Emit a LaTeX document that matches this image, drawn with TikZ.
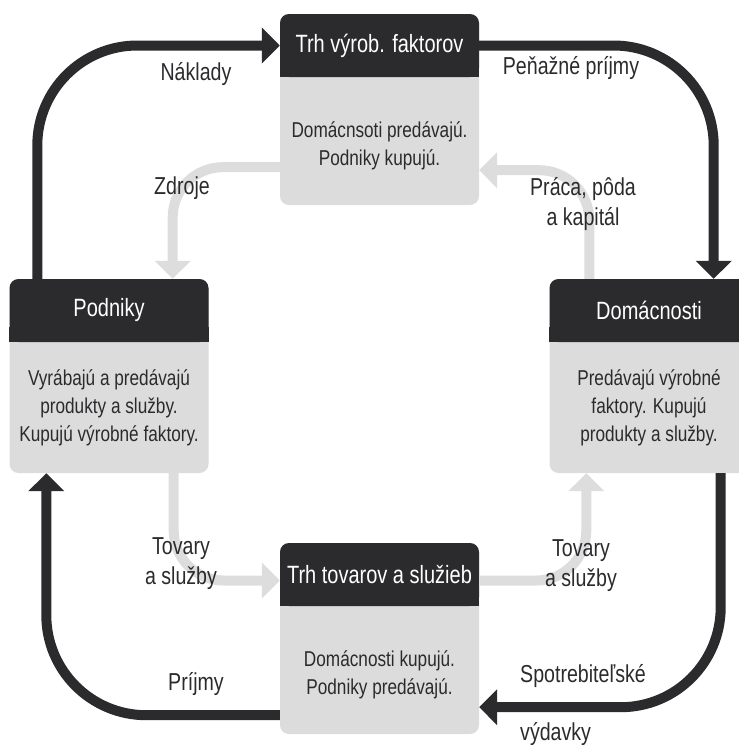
\documentclass[tikz,border=0pt]{standalone}
\usepackage{fontspec}
\setmainfont{Liberation Sans}[FakeStretch=0.8]
\usetikzlibrary{arrows.meta,positioning}

\definecolor{headdark}{HTML}{2B2B2E}
\definecolor{boxgray}{HTML}{DCDCDC}
\definecolor{flowgray}{HTML}{DDDDDD}

\begin{document}
\begin{tikzpicture}[
		x=1pt, y=-1pt,
		% Boxes for the four sectors and markets
		boxbody/.style={fill=boxgray, rounded corners=9pt, minimum width=199pt, inner sep=0pt},
		headbox/.style={fill=headdark, rounded corners=9pt, minimum width=199pt, minimum height=63pt,
			inner sep=0pt, text=white, font=\fontsize{25}{28}\selectfont},
		bodytxt/.style={align=center, text=headdark, inner sep=0pt, font=\fontsize{21.5}{28}\selectfont},
		% Flows between the boxes
		flowdark/.style={draw=headdark, line width=10pt, rounded corners=100pt,
			-{Triangle[width=35pt, length=18pt]}},
		flowlight/.style={draw=flowgray, line width=10pt, rounded corners=50pt,
			-{Triangle[width=35pt, length=18pt]}},
		lbl/.style={text=headdark, align=center, inner sep=0pt, font=\fontsize{24.5}{30}\selectfont}
		]
		
		\useasboundingbox (0,0) rectangle (739,745);
		\clip (0,0) rectangle (739,745);
		
		% =========================================================================
		% BOXES
		% =========================================================================
		\node[boxbody, minimum height=191pt] (trhf) at (379.5,109.5) {};
		\node[headbox, anchor=north] (fhead) at (trhf.north) {Trh výrob. faktorov};
		\fill[headdark] (fhead.south west) rectangle ([yshift=15pt]fhead.south east);
		\node[bodytxt, below=0pt of fhead, minimum height=136pt] (ftxt) {Domácnsoti predávajú.\\Podniky kupujú.};
		
		\node[boxbody, minimum height=194pt] (pbox) at (109,376) {};
		\node[headbox, anchor=north] (phead) at (pbox.north) {Podniky};
		\fill[headdark] (phead.south west) rectangle ([yshift=15pt]phead.south east);
		\node[bodytxt, below=0pt of phead, minimum height=131pt] (ptxt) {Vyrábajú a predávajú\\produkty a služby.\\Kupujú výrobné faktory.};
		
		\node[boxbody, minimum height=194pt] (dbox) at (649,376) {};
		\node[headbox, anchor=north] (dhead) at (dbox.north) {Domácnosti};
		\fill[headdark] (dhead.south west) rectangle ([yshift=15pt]dhead.south east);
		\node[bodytxt, below=0pt of dhead, minimum height=131pt] (dtxt) {Predávajú výrobné\\faktory. Kupujú\\produkty a služby.};
		
		\node[boxbody, minimum height=191pt] (trht) at (379.5,638.5) {};
		\node[headbox, anchor=north] (thead) at (trht.north) {Trh tovarov a služieb};
		\fill[headdark] (thead.south west) rectangle ([yshift=15pt]thead.south east);
		\node[bodytxt, below=0pt of thead, minimum height=136pt] (ttxt) {Domácnosti kupujú.\\Podniky predávajú.};
		
		% =========================================================================
		% MONEY FLOWS (dark)
		% =========================================================================
		\draw[flowdark] ([xshift=28pt]pbox.north west) |- (fhead.west);
		\draw[flowdark] (fhead.east) -| ([xshift=-35pt]dbox.north east);
		\draw[flowdark] ([xshift=-28pt]dbox.south east) |- ([yshift=27pt]trht.south east);
		\draw[flowdark] ([yshift=19pt]trht.south west) -| ([xshift=37pt]pbox.south west);
		
		% =========================================================================
		% REAL FLOWS (light)
		% =========================================================================
		\draw[flowlight] ([yshift=38pt]trhf.south west) -| ([xshift=-36pt]pbox.north east);
		\draw[flowlight] ([xshift=40pt]dbox.north west) |- ([yshift=35pt]trhf.south east);
		\draw[flowlight] ([xshift=-35pt]pbox.south east) |- ([yshift=-6pt]thead.west);
		\draw[flowlight] ([yshift=-6pt]thead.east) -| ([xshift=37pt]dbox.south west);
		
		% =========================================================================
		% LABELS
		% =========================================================================
		\node[lbl] (naklady) at (196,74) {Náklady};
		\node[lbl] (penazne) at (571,68) {Peňažné príjmy};
		\node[lbl] (zdroje) at (182,188) {Zdroje};
		\node[lbl] (praca) at (583,204) {Práca, pôda\\a kapitál};
		\node[lbl] (tovaryl) at (181,564) {Tovary\\a služby};
		\node[lbl] (tovaryr) at (581,566) {Tovary\\a služby};
		\node[lbl] (prijmy) at (196,684) {Príjmy};
		\node[lbl, anchor=west] (spotreba) at (520,676) {Spotrebiteľské};
		\node[lbl, anchor=west] (vydavky) at (520,734) {výdavky};
		
	\end{tikzpicture}
\end{document}
